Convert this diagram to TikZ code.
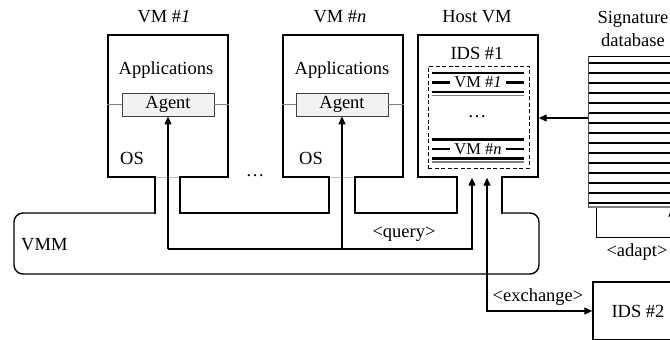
\documentclass[tikz,border=0pt]{standalone}
\usepackage{fontspec}
\setmainfont{Liberation Serif}
\usetikzlibrary{arrows.meta}
\tikzset{
  base/.style={font=\fontsize{18.5}{22}\selectfont},
  lbl/.style={base, inner sep=0pt},
  small/.style={font=\fontsize{16.5}{19}\selectfont, inner sep=0pt, inner xsep=4pt},
  vmbox/.style={draw, line width=1.4pt, minimum width=120pt, minimum height=142pt, inner sep=0pt},
  agentbox/.style={base, draw=black!75, line width=0.8pt, fill=black!5, minimum width=92pt, minimum height=23pt, inner sep=0pt},
  gline/.style={draw=black!50, line width=0.9pt},
  wire/.style={line width=1.4pt, line cap=rect},
  arr/.style={line width=1.2pt, -{Triangle[length=8pt,width=7pt]}},
  darr/.style={line width=1.2pt, {Triangle[length=8pt,width=7pt]}-{Triangle[length=8pt,width=7pt]}},
  stripe/.style={line width=2.3pt},
  ministripe/.style={line width=2.2pt},
  gap/.style={draw=white, line width=2.8pt},
  dashbox/.style={draw, dashed, dash pattern=on 4pt off 2.5pt, line width=0.9pt, minimum width=101pt, minimum height=102pt, inner sep=0pt},
}
\begin{document}
\begin{tikzpicture}[x=1pt,y=-1pt]
\useasboundingbox (0,0) rectangle (670,340);
\clip (0,0) rectangle (670,340);

% VM boxes
\node[vmbox] (vm1) at (168,106) {};
\node[vmbox] (vmn) at (343,106) {};
\node[vmbox] (host) at (478,106) {};

% openings at the bottom of the boxes
\draw[gap] (155.7,177) -- (179.3,177);
\draw[gap] (329.7,177) -- (354.3,177);
\draw[gap] (457.7,177) -- (501.3,177);
\draw[gline, draw=black!25] (155,177) -- (180,177);
\draw[gline, draw=black!25] (329,177) -- (355,177);

% VMM shape
\draw[wire] (155,177) -- (155,213);
\draw[wire, rounded corners=9pt] (155,213) -- (14,213) -- (14,274) -- (539,274) -- (539,213) -- (502,213);
\draw[wire] (502,213) -- (502,177);
\draw[wire, line cap=butt] (180,177) -- (180,213) -- (329,213) -- (329,177);
\draw[wire, line cap=butt] (355,177) -- (355,213) -- (457,213) -- (457,177);

% titles
\node[lbl] (t1) at (164,16.5) {VM \#\textit{1}};
\node[lbl] (tn) at (340,16.5) {VM \#\textit{n}};
\node[lbl] (th) at (477,17) {Host VM};
\node[lbl] (sig1) at (633,19) {Signature};
\node[lbl] (sig2) at (633,40) {database};

% inside VMs
\node[lbl] (ap1) at (166,70.5) {Applications};
\node[lbl] (apn) at (342,70.5) {Applications};
\node[lbl] (os1) at (132,158.5) {OS};
\node[lbl] (osn) at (311,158.5) {OS};
\node[agentbox] (a1) at (168,104.5) {Agent};
\node[agentbox] (an) at (342,104.5) {Agent};
\draw[gline] (vm1.west |- a1.west) -- (a1.west);
\draw[gline] (a1.east) -- (vm1.east |- a1.east);
\draw[gline] (vmn.west |- an.west) -- (an.west);
\draw[gline] (an.east) -- (vmn.east |- an.east);
\node[lbl] (dotsvm) at (255,175.5) {\dots};

% IDS #1
\node[lbl] (ids1) at (477,53.5) {IDS \#1};
\node[dashbox] (dash) at (478.5,117) {};
\draw[ministripe] (432,73) -- (524,73);
\draw[ministripe] (432,92) -- (524,92);
\draw[gline, line width=1.4pt] (432,95.5) -- (524,95.5);
\node[small] (m1) at (478,82.5) {VM \#\textit{1}};
\draw[ministripe] (432,82.5) -- (m1.west);
\draw[ministripe] (m1.east) -- (524,82.5);
\node[lbl] (dotsids) at (477,116.5) {\dots};
\draw[ministripe] (432,139.5) -- (524,139.5);
\draw[ministripe] (432,158.5) -- (524,158.5);
\draw[gline, line width=1.4pt] (432,162) -- (524,162);
\node[small] (mn) at (478,149) {VM \#\textit{n}};
\draw[ministripe] (432,149) -- (mn.west);
\draw[ministripe] (mn.east) -- (524,149);

% signature database
\node[inner sep=0pt, minimum width=112pt, minimum height=151pt] (db) at (644,131.5) {};
\draw[line width=0.8pt] (588,56) -- (700,56);
\foreach \y in {63,73,...,203} \draw[stripe] (588,\y) -- (700,\y);
\draw[gline, line width=1.4pt] (588,207) -- (700,207);
\draw[gline, line width=0.9pt, draw=black!70] (588,56) -- (588,207.5);
\coordinate (dbin) at (588,118);
\draw[arr] (dbin) -- (host.east |- dbin);

% adapt
\coordinate (ad0) at (596,207.5);
\coordinate (ad1) at (596,237);
\coordinate (ad2) at (672,237);
\coordinate (ad3) at (672,208.5);
\draw[arr, line width=1pt] (ad0) -- (ad1) -- (ad2) -- (ad3);
\node[lbl] (adapt) at (637,252) {<adapt>};

% query
\coordinate (qa) at (168,249);
\coordinate (qb) at (342,249);
\coordinate (qc) at (472,249);
\draw[arr] (qa) -- (a1.south);
\draw[arr] (qb) -- (an.south);
\draw[arr] (qa) -- (qc) -- (qc |- host.south);
\node[lbl] (query) at (404,234) {<query>};

% VMM label
\node[lbl, anchor=west] (vmm) at (21,245) {VMM};

% IDS #2 and exchange
\node[base, draw, line width=1.4pt, minimum width=90pt, minimum height=58pt, inner sep=0pt] (ids2) at (638,311) {IDS \#2};
\coordinate (ex) at (487,311);
\draw[darr] (host.south -| ex) -- (ex) -- (ids2.west);
\node[lbl] (exch) at (538,297) {<exchange>};
\end{tikzpicture}
\end{document}
